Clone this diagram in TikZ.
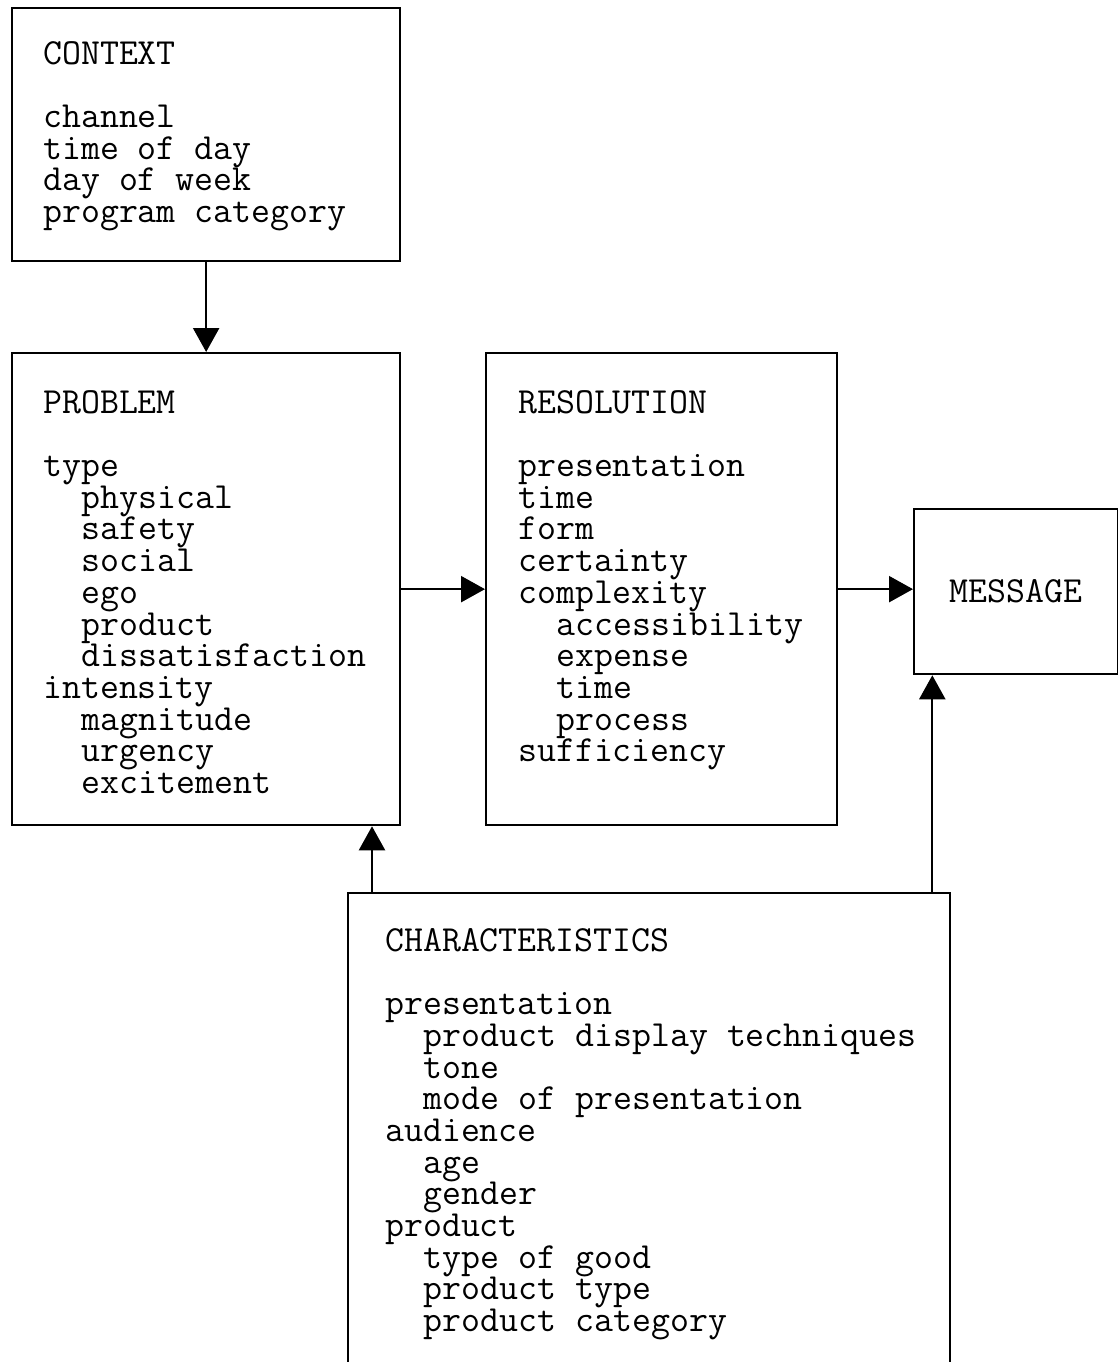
\documentclass[tikz,border=0pt]{standalone}
\usepackage{fontspec}
\usetikzlibrary{arrows.meta, positioning}
\tikzset{
  box/.style={draw, line width=2.3pt, anchor=north west, inner sep=0pt},
  boxtext/.style={anchor=north west, inner sep=0pt, align=left, font=\fontsize{36.8}{31.7}\selectfont\ttfamily},
  flow/.style={line width=2.3pt, -{Triangle[length=24pt, width=26pt]}}
}
\newcommand{\indt}{\hspace*{38.6pt}}

\begin{document}
\begin{tikzpicture}[x=1pt, y=-1pt]
  \useasboundingbox (0,0) rectangle (1118,1362);
  % boxes
  \node[box, minimum width=388pt, minimum height=253pt] (context) at (11,7) {};
  \node[box, minimum width=388pt, minimum height=472pt] (problem) at (11,352) {};
  \node[box, minimum width=351pt, minimum height=472pt] (resolution) at (485,352) {};
  \node[box, minimum width=204pt, minimum height=165pt] (message) at (913,508) {};
  \node[box, minimum width=602pt, minimum height=520pt] (characteristics) at (347,892) {};

  % box texts
  \node[boxtext] (contexttext) at (43,41) {CONTEXT\\[31.7pt]
    channel\\time of day\\day of week\\program category};
  \node[boxtext] (problemtext) at (43,390) {PROBLEM\\[31.7pt]
    type\\\indt physical\\\indt safety\\\indt social\\\indt ego\\\indt product\\\indt dissatisfaction\\
    intensity\\\indt magnitude\\\indt urgency\\\indt excitement};
  \node[boxtext] (resolutiontext) at (518,390) {RESOLUTION\\[31.7pt]
    presentation\\time\\form\\certainty\\complexity\\\indt accessibility\\\indt expense\\\indt time\\\indt process\\
    sufficiency};
  \node[boxtext, anchor=center] (messagetext) at (message.center) {MESSAGE};
  \node[boxtext] (characteristicstext) at (385,928) {CHARACTERISTICS\\[31.7pt]
    presentation\\\indt product display techniques\\\indt tone\\\indt mode of presentation\\
    audience\\\indt age\\\indt gender\\
    product\\\indt type of good\\\indt product type\\\indt product category};

  % connectors
  \draw[flow] (context.south) -- (problem.north);
  \draw[flow] (problem.east) -- (resolution.west);
  \draw[flow] (resolution.east) -- (resolution.east -| message.west);
  \draw[flow] ([xshift=25pt]characteristics.north west) -- ([xshift=25pt]characteristics.north west |- problem.south);
  \draw[flow] ([xshift=-19pt]characteristics.north east) -- ([xshift=-19pt]characteristics.north east |- message.south);
\end{tikzpicture}
\end{document}
